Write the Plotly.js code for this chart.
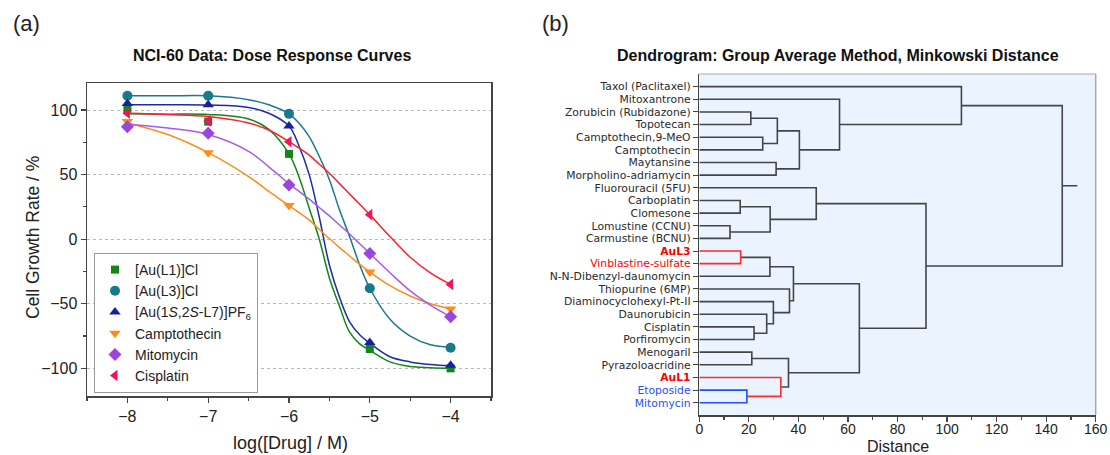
<!DOCTYPE html>
<html><head><meta charset="utf-8">
<script src="https://cdn.plot.ly/plotly-3.0.1.min.js"></script>
<style>html,body{margin:0;padding:0;background:#fff}#chart{width:1110px;height:455px}</style>
</head><body><div id="chart"></div>
<script>
// ---------- Panel (a): dose response ----------
const logDose = [-8, -7, -6, -5, -4];
const seriesNames = ['[Au(L1)]Cl', '[Au(L3)]Cl', '[Au(1<i>S</i>,2<i>S</i>-L7)]PF<sub>6</sub>', 'Camptothecin', 'Mitomycin', 'Cisplatin'];
const growthL1 = [101, 91, 66, -85, -100];
const growthL3 = [111, 111, 97, -38, -84];
const growthL7 = [105, 104, 87.6, -80, -97.5];
const growthCampto = [91, 67, 26, -25.5, -54];
const growthMito = [87, 82, 42, -11, -60];
const growthCis = [97.5, 91.5, 75.5, 19, -35];

// fitted curves
const fitDose = [-8, -7.5, -7, -6.5, -6.25, -6, -5.875, -5.75, -5.625, -5.5, -5.375, -5.25, -5.125, -5, -4.75, -4.5, -4.25, -4];
const fitL1 = [97, 96.8, 96.5, 93, 85, 66, 48, 24, 0, -30, -52, -72, -81, -86, -95, -98.6, -99.5, -100];
const fitL3 = [111, 111, 111, 108, 104, 97, 89.7, 79.4, 64, 46, 22.7, 2, -20, -38, -62, -75, -81.7, -83.5];
const fitL7 = [104, 104, 103.8, 102, 97.5, 87.6, 72, 50, 17, -20, -45, -64, -74, -80.5, -91, -95, -97, -98];
const fitCampto = [90, 81, 67, 48.5, 37, 26, 20.5, 15, 7.5, 0.5, -6.5, -13, -19.5, -25.5, -36, -44, -50, -54];
const fitMito = [89, 86, 81, 68, 56, 43, 37, 31, 24.5, 18, 11, 4, -3.5, -11, -26, -40, -51, -60];
const fitCis = [97.5, 96.5, 95, 90, 84.5, 75.5, 70.5, 65, 58, 51, 43, 35, 27, 19, 2, -14, -26, -35];

// ---------- Panel (b): dendrogram ----------
const leafLabels = ['Taxol (Paclitaxel)', 'Mitoxantrone', 'Zorubicin (Rubidazone)', 'Topotecan', 'Camptothecin,9-MeO',
  'Camptothecin', 'Maytansine', 'Morpholino-adriamycin', 'Fluorouracil (5FU)', 'Carboplatin', 'Clomesone',
  'Lomustine (CCNU)', 'Carmustine (BCNU)', 'AuL3', 'Vinblastine-sulfate', 'N-N-Dibenzyl-daunomycin',
  'Thiopurine (6MP)', 'Diaminocyclohexyl-Pt-II', 'Daunorubicin', 'Cisplatin', 'Porfiromycin', 'Menogaril',
  'Pyrazoloacridine', 'AuL1', 'Etoposide', 'Mitomycin'];
// merges: children index (<26 leaf, >=26 earlier merge 26+k), distance
const mergeLeft  = [2, 4, 6, 26, 29, 1, 0, 9, 11, 33, 8, 13, 37, 19, 18, 17, 16, 38, 21, 24, 23, 44, 43, 36, 32];
const mergeRight = [3, 5, 7, 27, 28, 30, 31, 10, 12, 34, 35, 14, 15, 20, 39, 40, 41, 42, 22, 25, 45, 46, 47, 48, 49];
const mergeDist  = [20.8, 25.6, 31.0, 31.5, 40.4, 56.6, 105.8, 16.5, 12.4, 28.6, 47.2, 16.7, 28.5, 22.1, 27.2, 29.9, 36.4, 38.0, 21.2, 19.2, 32.9, 36.0, 64.6, 91.5, 146.5];
const rootTailDist = 152.6;

// styles
const leafStyle = {
  'AuL3': {color: '#ff0000', bold: true},
  'Vinblastine-sulfate': {color: '#ff0000'},
  'AuL1': {color: '#ff0000', bold: true},
  'Etoposide': {color: '#1f4fff'},
  'Mitomycin': {color: '#1f4fff'}
};
const mergeStyle = {11: '#ff2a2a', 19: '#1f4fff', 20: '#ff2a2a'};
const baseLine = '#454545';

const W = 1110, H = 455;
const px = v => v / W, py = v => 1 - v / H;

const markerSpecs = [
  {symbol: 'square', size: 8, color: '#13861a'},
  {symbol: 'circle', size: 10, color: '#17798c'},
  {symbol: 'triangle-up', size: 10, color: '#16239c'},
  {symbol: 'triangle-down', size: 10, color: '#ff8c1a'},
  {symbol: 'diamond', size: 10, color: '#9a45dd'},
  {symbol: 'triangle-left', size: 10, color: '#f2145a'}
];
const lineColors = ['#13861a', '#17798c', '#1c2ba8', '#ff8c1a', '#a35cf0', '#ff1f2f'];
const dataSets = [growthL1, growthL3, growthL7, growthCampto, growthMito, growthCis];
const fitSets = [fitL1, fitL3, fitL7, fitCampto, fitMito, fitCis];

const traces = [];
fitSets.forEach((f, i) => {
  traces.push({x: fitDose, y: f, mode: 'lines', line: {color: lineColors[i], width: 1.5, shape: 'spline', smoothing: 1},
    showlegend: false, hoverinfo: 'skip', xaxis: 'x', yaxis: 'y'});
});
dataSets.forEach((d, i) => {
  traces.push({x: logDose, y: d, mode: 'markers', name: seriesNames[i],
    marker: {symbol: markerSpecs[i].symbol, size: markerSpecs[i].size, color: markerSpecs[i].color, line: {width: 0}},
    xaxis: 'x', yaxis: 'y'});
});

// dendrogram geometry
const pos = leafLabels.map((_, i) => i);
const hgt = leafLabels.map(() => 0);
const segs = {};
mergeLeft.forEach((a, k) => {
  const b = mergeRight[k], h = mergeDist[k];
  const col = mergeStyle[k] || baseLine;
  if (!segs[col]) segs[col] = {x: [], y: []};
  const s = segs[col];
  s.x.push(hgt[a], h, h, hgt[b], null);
  s.y.push(pos[a], pos[a], pos[b], pos[b], null);
  pos.push((pos[a] + pos[b]) / 2);
  hgt.push(h);
});
const rootIdx = pos.length - 1;
segs[baseLine].x.push(hgt[rootIdx], rootTailDist, null);
segs[baseLine].y.push(pos[rootIdx], pos[rootIdx], null);
[baseLine, '#ff2a2a', '#1f4fff'].forEach(col => {
  traces.push({x: segs[col].x, y: segs[col].y, mode: 'lines', line: {color: col, width: 1.6},
    connectgaps: false, showlegend: false, hoverinfo: 'skip', xaxis: 'x2', yaxis: 'y2'});
});

const tickText = leafLabels.map(l => {
  const st = leafStyle[l];
  if (!st) return l;
  let t = '<span style="color:' + st.color + '">' + l + '</span>';
  if (st.bold) t = '<b>' + t + '</b>';
  return t;
});

const axisCol = '#444';
const layout = {
  width: W, height: H, margin: {l: 0, r: 0, t: 0, b: 0},
  paper_bgcolor: '#ffffff', plot_bgcolor: '#ffffff',
  font: {family: 'Liberation Sans, Arial, sans-serif', size: 14, color: '#222'},
  showlegend: true,
  xaxis: {domain: [px(87), px(491)], range: [-8.5, -3.5], dtick: 1, tick0: -8,
    ticks: 'outside', ticklen: 5, tickcolor: axisCol, tickwidth: 1.2,
    showline: true, mirror: true, linecolor: axisCol, linewidth: 1.5,
    showgrid: false, zeroline: false, tickfont: {size: 16, color: '#222'},
    minor: {dtick: 0.5, tick0: -8.5, ticks: 'outside', ticklen: 3, tickcolor: axisCol, showgrid: false}},
  yaxis: {domain: [py(396), py(83)], range: [-121.4, 120.9], dtick: 50, tick0: 0,
    ticks: 'outside', ticklen: 5, tickcolor: axisCol, tickwidth: 1.2,
    showline: true, mirror: true, linecolor: axisCol, linewidth: 1.5,
    showgrid: true, gridcolor: '#b8b8b8', griddash: 'dot', gridwidth: 1, zeroline: false,
    tickfont: {size: 16, color: '#222'},
    minor: {dtick: 25, tick0: 0, ticks: 'outside', ticklen: 3, tickcolor: axisCol, showgrid: false}},
  xaxis2: {domain: [px(699.3), px(1095.7)], range: [0, 160], dtick: 20, tick0: 0, anchor: 'y2',
    ticks: 'outside', ticklen: 5, tickcolor: axisCol, tickwidth: 1.2, ticklabelstandoff: -4,
    showline: true, linecolor: axisCol, linewidth: 1.5, showgrid: false, zeroline: false,
    tickfont: {size: 14, color: '#222'},
    minor: {dtick: 10, tick0: 0, ticks: 'outside', ticklen: 3, tickcolor: axisCol, showgrid: false}},
  yaxis2: {domain: [py(415), py(74)], range: [25.97, -1.0], anchor: 'x2',
    tickmode: 'array', tickvals: leafLabels.map((_, i) => i), ticktext: tickText,
    ticks: 'outside', ticklen: 5, tickcolor: axisCol, tickwidth: 1,
    showline: true, linecolor: axisCol, linewidth: 1.5, showgrid: false, zeroline: false,
    tickfont: {family: 'DejaVu Sans, Verdana, sans-serif', size: 10.8, color: '#2a2a2a'}},
  legend: {x: px(94), y: py(253), xanchor: 'left', yanchor: 'top', xref: 'paper', yref: 'paper',
    bgcolor: '#ffffff', bordercolor: '#9a9a9a', borderwidth: 1,
    font: {size: 14, color: '#222'}, tracegroupgap: 0},
  shapes: [
    {type: 'rect', xref: 'x2 domain', yref: 'y2 domain', x0: 0, x1: 1, y0: 0, y1: 1,
      fillcolor: '#ebf4fe', line: {width: 0}, layer: 'below'},
    {type: 'line', xref: 'paper', yref: 'paper', x0: px(699.3), x1: px(1095.7), y0: py(74), y1: py(74),
      line: {color: '#c4c4c4', width: 1.5}},
    {type: 'line', xref: 'paper', yref: 'paper', x0: px(1095.7), x1: px(1095.7), y0: py(74), y1: py(415),
      line: {color: '#a8a8a8', width: 1.5}}
  ],
  annotations: [
    {text: '(a)', x: px(11), y: py(23), xref: 'paper', yref: 'paper', xanchor: 'left', yanchor: 'middle',
      showarrow: false, font: {size: 22, color: '#222'}},
    {text: '(b)', x: px(540), y: py(23), xref: 'paper', yref: 'paper', xanchor: 'left', yanchor: 'middle',
      showarrow: false, font: {size: 22, color: '#222'}},
    {text: '<b>NCI-60 Data: Dose Response Curves</b>', x: px(272), y: py(55), xref: 'paper', yref: 'paper',
      xanchor: 'center', yanchor: 'middle', showarrow: false, font: {size: 16, color: '#111'}},
    {text: '<b>Dendrogram: Group Average Method, Minkowski Distance</b>', x: px(838), y: py(55), xref: 'paper', yref: 'paper',
      xanchor: 'center', yanchor: 'middle', showarrow: false, font: {size: 16, color: '#111'}},
    {text: 'Cell Growth Rate / %', x: px(33), y: py(238), xref: 'paper', yref: 'paper', textangle: -90,
      xanchor: 'center', yanchor: 'middle', showarrow: false, font: {size: 17.5, color: '#222'}},
    {text: 'log([Drug] / M)', x: px(290), y: py(443), xref: 'paper', yref: 'paper',
      xanchor: 'center', yanchor: 'middle', showarrow: false, font: {size: 18, color: '#222'}},
    {text: 'Distance', x: px(898), y: py(446), xref: 'paper', yref: 'paper',
      xanchor: 'center', yanchor: 'middle', showarrow: false, font: {size: 16, color: '#222'}}
  ]
};

Plotly.newPlot('chart', traces, layout, {displayModeBar: false, staticPlot: true});
</script>
</body></html>
